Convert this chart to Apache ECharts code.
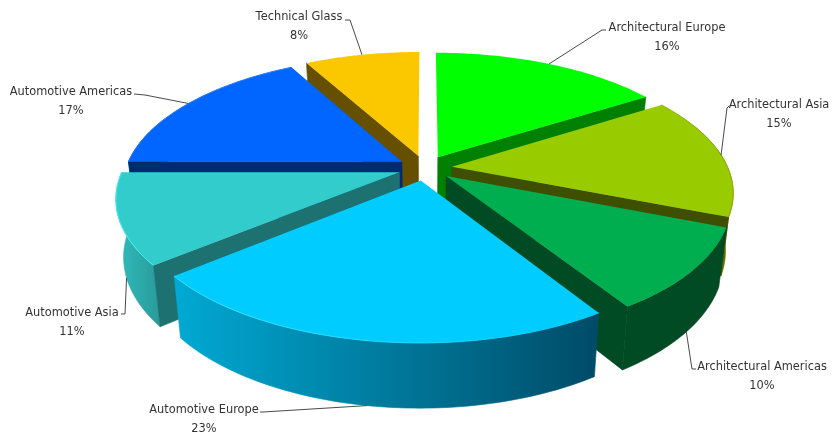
<!DOCTYPE html>
<html>
<head>
<meta charset="utf-8">
<style>html,body{margin:0;padding:0;background:#fff}#chart{width:833px;height:435px}</style>
<script src="https://cdn.jsdelivr.net/npm/echarts@6/dist/echarts.min.js"></script>
</head>
<body>
<div id="chart"></div>
<script>
// Revenue share by business line, clockwise from twelve o'clock.
const categories = ['Architectural Europe', 'Architectural Asia', 'Architectural Americas',
  'Automotive Europe', 'Automotive Asia', 'Automotive Americas', 'Technical Glass'];
const shares = [16, 15, 10, 23, 11, 17, 8];

// Slice colours: top face, radial walls, outer wall (left and right end), rim highlight.
const topColors = ['#00ff00', '#99cc00', '#00ae50', '#00ccff', '#33cccc', '#0066ff', '#fbc800'];
const sideColors = ['#008000', '#3f4f00', '#004a24', '#00617f', '#1d7171', '#002b70', '#665000'];
const outerLeft = ['#008000', '#7c9a00', '#004a24', '#00a8d2', '#2fb6b6', '#0052cc', '#665000'];
const outerRight = ['#008000', '#5c7000', '#004a24', '#004c68', '#2a9a9a', '#0052cc', '#665000'];
const rimColors = [null, '#8aad00', null, '#35e8ff', '#45f0f0', '#2a78ff', null];

// Painter's order, far slices first.
const drawOrder = [6, 0, 5, 1, 4, 2, 3];

// Label placement: text centre, then the elbow and end of the leader line.
const labelCenters = [[667, 38], [779, 115], [762, 377], [204, 420], [72, 323], [71, 102], [299, 27]];
const leaderElbows = [[602, 30], [727, 108], [692, 369], [263, 412], [125, 314], [145, 95], [350, 20]];
const leaderEnds = [[606, 30], [729, 106], [696, 369], [260, 412], [121, 314], [134, 94], [345, 20]];

// Projection of the tilted disc.
const CX = 425, CY = 168, RX = 276, RY = 127.3, TILT = 0.184, EXPLODE = 0.098;
const BASE_DROP = 56.5, BASE_STRETCH = 1.05, BASE_SHRINK = 0.975;
const FRONT_WALL_LIMIT = 0.35; // outer wall is hidden behind the top face further back than this

const total = shares.reduce((a, b) => a + b, 0);
const rad = v => v / total * Math.PI * 2;
const startAngle = shares.map((_, i) => rad(shares.slice(0, i).reduce((a, b) => a + b, 0)));
const endAngle = shares.map((_, i) => startAngle[i] + rad(shares[i]));

function project(i, r, t) {
  const m = (startAngle[i] + endAngle[i]) / 2;
  const X = EXPLODE * Math.sin(m) + r * Math.sin(t);
  const Y = EXPLODE * Math.cos(m) + r * Math.cos(t);
  const s = 1 / (1 + TILT * Y);
  return [CX + RX * X * s, CY - RY * Y * s];
}
function lower(p) {
  return [CX + (p[0] - CX) * BASE_SHRINK, CY + BASE_DROP + (p[1] - CY) * BASE_STRETCH];
}
function rimAngles(i) {
  const list = [];
  const n = Math.max(12, Math.round(shares[i] * 3));
  for (let k = 0; k <= n; k++) {
    list.push(startAngle[i] + (endAngle[i] - startAngle[i]) * k / n);
  }
  return list;
}
function horizontalGradient(x0, x1, c0, c1) {
  if (c0 === c1) return c0;
  return new echarts.graphic.LinearGradient(x0, 0, x1, 0,
    [{ offset: 0, color: c0 }, { offset: 1, color: c1 }], true);
}

function renderSlice(params, api) {
  const i = api.value(0);
  const angles = rimAngles(i);
  const rim = angles.map(t => project(i, 1, t));
  const apex = project(i, 0, 0);
  const children = [];

  // outer wall, front part only
  const frontRim = angles.filter(t => Math.cos(t) < FRONT_WALL_LIMIT).map(t => project(i, 1, t));
  if (frontRim.length > 1) {
    const base = frontRim.map(lower);
    const xs = base.map(p => p[0]);
    const fill = horizontalGradient(Math.min(...xs), Math.max(...xs), outerLeft[i], outerRight[i]);
    children.push({
      type: 'polygon', silent: true,
      shape: { points: frontRim.concat(base.slice().reverse()) },
      style: { fill: fill, stroke: fill, lineWidth: 0.6 }
    });
  }
  // radial walls that face the viewer
  const wall = (p) => ({
    type: 'polygon', silent: true,
    shape: { points: [apex, p, lower(p), lower(apex)] },
    style: { fill: sideColors[i], stroke: sideColors[i], lineWidth: 0.6 }
  });
  if (Math.sin(startAngle[i]) < -1e-6) children.push(wall(rim[0]));
  if (Math.sin(endAngle[i]) > 1e-6) children.push(wall(rim[rim.length - 1]));
  // top face
  children.push({
    type: 'polygon', silent: true,
    shape: { points: [apex].concat(rim) },
    style: { fill: topColors[i] }
  });
  // light catching the rim
  if (rimColors[i]) {
    const x = rim.map(p => p[0]);
    children.push({
      type: 'polyline', silent: true,
      shape: { points: rim },
      style: {
        fill: 'none', lineWidth: 1,
        stroke: horizontalGradient(Math.min(...x), Math.max(...x), rimColors[i], i === 3 ? topColors[i] : rimColors[i])
      }
    });
  }
  return { type: 'group', children };
}

function renderLabel(params, api) {
  const i = api.value(0);
  const m = (startAngle[i] + endAngle[i]) / 2;
  const onRim = project(i, 1, m);
  const anchor = Math.cos(m) < -0.3 ? lower(onRim) : onRim;
  return {
    type: 'group',
    children: [{
      type: 'polyline', silent: true,
      shape: { points: [anchor, leaderElbows[i], leaderEnds[i]] },
      style: { fill: 'none', stroke: '#4a4a4a', lineWidth: 1 }
    }, {
      type: 'text', silent: true,
      x: labelCenters[i][0], y: labelCenters[i][1],
      style: {
        text: categories[i] + '\n' + shares[i] + '%',
        align: 'center', verticalAlign: 'middle', lineHeight: 19,
        font: '11.4px "DejaVu Sans"', fill: '#333333'
      }
    }]
  };
}

const chart = echarts.init(document.getElementById('chart'), null, { renderer: 'canvas' });
chart.setOption({
  animation: false,
  backgroundColor: '#ffffff',
  series: [
    { type: 'custom', coordinateSystem: 'none', renderItem: renderSlice, z: 2,
      data: drawOrder.map(i => [i]) },
    { type: 'custom', coordinateSystem: 'none', renderItem: renderLabel, z: 3,
      data: categories.map((_, i) => [i]) }
  ]
});
</script>
</body>
</html>
